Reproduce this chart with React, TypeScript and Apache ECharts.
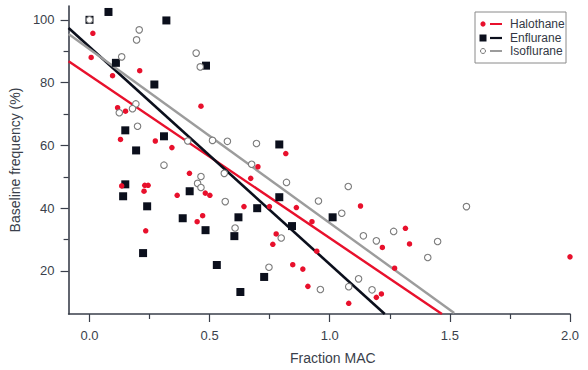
import React, { useEffect, useRef } from "react";
import * as echarts from "echarts";

const halothane: number[][] = [
  [0.014, 95.7], [0.007, 88.0], [0.096, 82.2], [0.209, 83.8], [0.117, 72.0], [0.15, 70.9],
  [0.464, 72.5], [0.129, 61.9], [0.274, 61.4], [0.343, 59.3], [0.134, 47.1], [0.23, 47.3],
  [0.244, 47.3], [0.227, 45.4], [0.416, 51.1], [0.365, 44.1], [0.234, 32.8], [0.448, 35.7],
  [0.471, 37.6], [0.482, 44.8], [0.501, 44.1], [0.701, 53.2], [0.671, 49.5], [0.643, 40.5],
  [0.749, 40.5], [0.861, 40.2], [0.926, 35.7], [0.777, 31.8], [0.763, 28.5], [0.946, 26.3],
  [0.846, 22.0], [0.888, 20.6], [0.909, 15.1], [1.128, 40.7], [1.315, 33.6], [1.332, 28.6],
  [1.219, 27.5], [1.27, 20.9], [1.194, 11.6], [1.215, 12.7], [1.079, 9.7], [2.0, 24.5],
  [0.817, 57.4],
];

const enflurane: number[][] = [
  [0, 100], [0.079, 102.5], [0.32, 99.8], [0.11, 86.3], [0.27, 79.4], [0.485, 85.4],
  [0.149, 64.8], [0.31, 62.9], [0.194, 58.4], [0.149, 47.6], [0.14, 43.8], [0.24, 40.6],
  [0.223, 25.7], [0.417, 45.4], [0.388, 36.8], [0.483, 33.0], [0.53, 21.9], [0.628, 13.3],
  [0.603, 31.1], [0.62, 37.1], [0.698, 40.0], [0.79, 43.5], [0.843, 34.3], [0.727, 18.1],
  [1.012, 37.1], [0.79, 60.3],
];

const isoflurane: number[][] = [
  [0, 100], [0.207, 96.8], [0.196, 93.6], [0.134, 88.2], [0.444, 89.4], [0.461, 85.0],
  [0.193, 73.2], [0.179, 71.7], [0.124, 70.4], [0.2, 66.1], [0.409, 61.4], [0.31, 53.7],
  [0.464, 50.1], [0.45, 47.9], [0.464, 46.6], [0.512, 61.6], [0.574, 61.3], [0.695, 60.6],
  [0.675, 54.0], [0.561, 51.1], [0.82, 48.2], [0.565, 42.1], [0.953, 42.3], [0.606, 33.7],
  [0.798, 30.5], [0.747, 21.2], [0.961, 14.1], [1.05, 38.4], [1.569, 40.5], [1.14, 31.2],
  [1.194, 29.6], [1.266, 32.6], [1.449, 29.4], [1.408, 24.3], [1.12, 17.5], [1.079, 15.0],
  [1.176, 14.0], [1.077, 46.9],
];

const halothaneFit: number[][] = [[-0.087, 86.8], [1.467, 6.3]];
const enfluraneFit: number[][] = [[-0.087, 97.4], [1.229, 6.3]];
const isofluraneFit: number[][] = [[-0.087, 95.5], [1.518, 6.6]];

const xMajorTicks = [0, 0.5, 1, 1.5, 2];
const xMinorTicks = [0.25, 0.75, 1.25, 1.75];
const yMajorTicks = [20, 40, 60, 80, 100];
const yMinorTicks = [30, 50, 70, 90];

const seriesNames = ["Halothane", "Enflurane", "Isoflurane"];

const RED = "#e8102c";
const BLACK = "#0b0f1c";
const GREY = "#9c9c9c";
const AXIS = "#3a3f4b";
const FONT = "'Liberation Sans', Arial, Helvetica, sans-serif";

const X_MIN = -0.087;
const X_MAX = 2.0;
const Y_MIN = 6.3;
const Y_MAX = 104.4;

export default function App() {
  const ref = useRef<HTMLDivElement>(null);

  useEffect(() => {
    if (!ref.current) return;
    const chart = echarts.init(ref.current, undefined, { renderer: "svg" });

    const baseX = {
      type: "value" as const,
      min: X_MIN,
      max: X_MAX,
      position: "bottom" as const,
      splitLine: { show: false },
    };
    const baseY = {
      type: "value" as const,
      min: Y_MIN,
      max: Y_MAX,
      position: "left" as const,
      splitLine: { show: false },
    };

    const legendX = 475;
    const legendY = 12;
    const rowYs = [24, 38, 51];
    const legendGraphics: any[] = [
      {
        type: "rect",
        shape: { x: legendX, y: legendY, width: 91, height: 51 },
        style: { fill: "#fff", stroke: "#8a8a8a", lineWidth: 1 },
        z: 100,
      },
      { type: "circle", shape: { cx: 483, cy: rowYs[0], r: 2.6 }, style: { fill: RED }, z: 101 },
      { type: "rect", shape: { x: 479.5, y: rowYs[1] - 3.5, width: 7, height: 7 }, style: { fill: BLACK }, z: 101 },
      { type: "circle", shape: { cx: 483, cy: rowYs[2], r: 2.5 }, style: { fill: "#fff", stroke: "#777", lineWidth: 1 }, z: 101 },
      { type: "line", shape: { x1: 490, y1: rowYs[0], x2: 502, y2: rowYs[0] }, style: { stroke: RED, lineWidth: 2 }, z: 101 },
      { type: "line", shape: { x1: 490, y1: rowYs[1], x2: 502, y2: rowYs[1] }, style: { stroke: BLACK, lineWidth: 2.2 }, z: 101 },
      { type: "line", shape: { x1: 490, y1: rowYs[2], x2: 502, y2: rowYs[2] }, style: { stroke: GREY, lineWidth: 2 }, z: 101 },
    ];
    seriesNames.forEach((n, i) => {
      legendGraphics.push({
        type: "text",
        x: 510,
        y: rowYs[i],
        style: { text: n, fill: "#333844", font: `12px ${FONT}`, verticalAlign: "middle", align: "left" },
        z: 101,
      });
    });

    chart.setOption({
      animation: false,
      backgroundColor: "#fff",
      grid: { left: 65, right: 18, top: 6, bottom: 55, containLabel: false },
      xAxis: [
        {
          ...baseX,
          name: "Fraction MAC",
          nameLocation: "middle",
          nameGap: 37,
          nameTextStyle: { color: AXIS, fontSize: 14, fontFamily: FONT, padding: [0, 0, 0, 27] },
          axisLine: { show: true, onZero: false, lineStyle: { color: AXIS, width: 1.6 } },
          axisTick: { show: true, length: 8, customValues: xMajorTicks, lineStyle: { color: AXIS, width: 1.2 } },
          axisLabel: {
            show: true,
            customValues: xMajorTicks,
            margin: 15,
            color: AXIS,
            fontSize: 13,
            fontFamily: FONT,
            formatter: (v: number) => v.toFixed(1),
          },
        },
        {
          ...baseX,
          axisLine: { show: false, onZero: false },
          axisTick: { show: true, length: 5, customValues: xMinorTicks, lineStyle: { color: AXIS, width: 1.2 } },
          axisLabel: { show: false },
        },
      ],
      yAxis: [
        {
          ...baseY,
          name: "Baseline frequency (%)",
          nameLocation: "middle",
          nameGap: 43,
          nameTextStyle: { color: AXIS, fontSize: 14, fontFamily: FONT },
          axisLine: { show: true, onZero: false, lineStyle: { color: AXIS, width: 1.6 } },
          axisTick: { show: true, length: 8, customValues: yMajorTicks, lineStyle: { color: AXIS, width: 1.2 } },
          axisLabel: {
            show: true,
            customValues: yMajorTicks,
            margin: 14,
            color: AXIS,
            fontSize: 13,
            fontFamily: FONT,
          },
        },
        {
          ...baseY,
          axisLine: { show: false, onZero: false },
          axisTick: { show: true, length: 5, customValues: yMinorTicks, lineStyle: { color: AXIS, width: 1.2 } },
          axisLabel: { show: false },
        },
      ],
      series: [
        {
          name: "Halothane fit",
          type: "line",
          data: halothaneFit,
          symbol: "none",
          lineStyle: { color: RED, width: 2.4 },
          z: 2,
        },
        {
          name: "Enflurane fit",
          type: "line",
          data: enfluraneFit,
          symbol: "none",
          lineStyle: { color: BLACK, width: 2.6 },
          z: 2,
        },
        {
          name: "Isoflurane fit",
          type: "line",
          data: isofluraneFit,
          symbol: "none",
          lineStyle: { color: GREY, width: 2.4 },
          z: 2,
        },
        {
          name: "Enflurane",
          type: "scatter",
          data: enflurane,
          symbol: "rect",
          symbolSize: 8,
          itemStyle: { color: BLACK, opacity: 1 },
          z: 3,
        },
        {
          name: "Halothane",
          type: "scatter",
          data: halothane,
          symbol: "circle",
          symbolSize: 5.5,
          itemStyle: { color: RED, opacity: 1 },
          z: 4,
        },
        {
          name: "Isoflurane",
          type: "scatter",
          data: isoflurane,
          symbol: "circle",
          symbolSize: 6.5,
          itemStyle: { color: "#fff", borderColor: "#7c7c7c", borderWidth: 1.1, opacity: 1 },
          z: 5,
        },
      ],
      graphic: legendGraphics,
    });

    return () => chart.dispose();
  }, []);

  return (
    <div
      ref={ref}
      style={{ position: "fixed", left: 0, top: 0, width: 588, height: 370, background: "#fff" }}
    />
  );
}
